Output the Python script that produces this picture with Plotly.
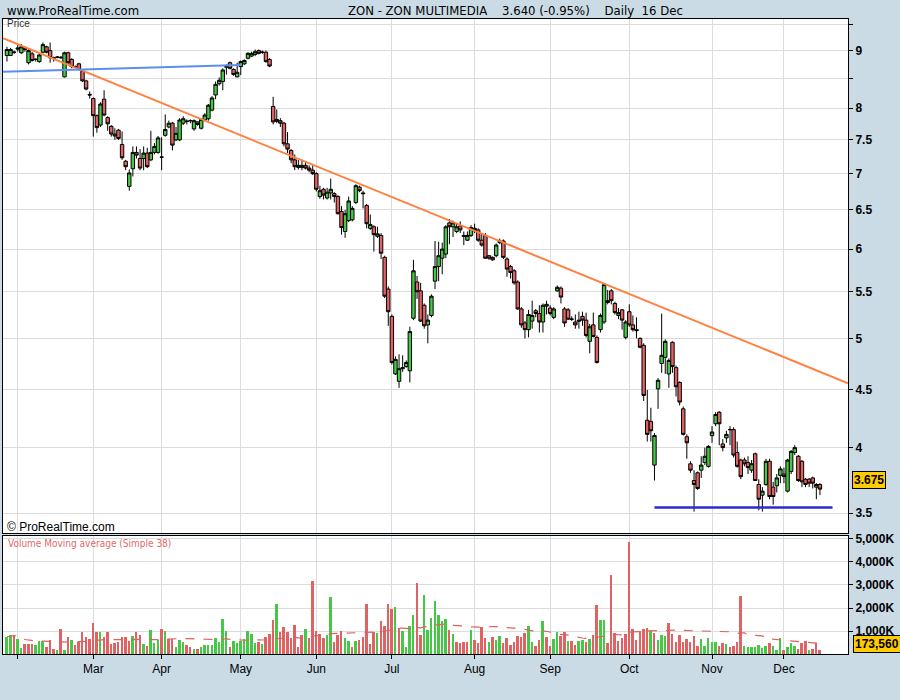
import numpy as np
import pandas as pd
import plotly.graph_objects as go

# ---------------- data ----------------
holidays = ["2008-03-21", "2008-03-24", "2008-05-01", "2008-12-08"]
dates = [d for d in pd.bdate_range("2008-01-29", "2008-12-16")
         if d.strftime("%Y-%m-%d") not in holidays]

opens = [8.91, 8.91, 8.97, 9.05, 8.96, 9.05, 8.78, 8.94, 8.84, 8.80, 8.97, 9.07, 9.00, 8.87, 8.88, 8.88, 8.53, 8.96, 8.84, 8.71,
         8.76, 8.63, 8.46, 8.23, 8.16, 7.88, 7.73, 8.15, 7.85, 7.71, 7.56, 7.65, 7.43, 7.18, 6.82, 7.07, 7.31, 7.22, 7.22, 7.30,
         7.20, 7.31, 7.31, 7.24, 7.57, 7.70, 7.76, 7.50, 7.50, 7.76, 7.79, 7.80, 7.67, 7.78, 7.68, 7.81, 7.83, 7.97, 8.22, 8.41,
         8.45, 8.70, 8.78, 8.66, 8.53, 8.71, 8.76, 8.86, 8.90, 8.93, 9.00, 8.97, 8.97, 8.84,
         8.03, 7.82, 7.80, 7.76, 7.44, 7.34, 7.20, 7.09, 7.12, 7.12, 7.08, 7.05, 7.00, 6.68, 6.78, 6.66, 6.73, 6.72, 6.68, 6.48,
         6.22, 6.36, 6.37, 6.60, 6.81, 6.73, 6.56, 6.26, 6.28, 6.16, 6.17, 5.90, 5.53, 5.23, 4.65, 4.58, 4.70, 4.72, 4.68,
         5.21, 5.61, 5.51, 5.35, 5.14, 5.24, 5.62, 5.79, 5.89, 5.94, 6.33, 6.28, 6.22, 6.29, 6.17, 6.11, 6.17, 6.26, 6.24, 6.11,
         6.17, 5.92, 5.90, 5.92, 6.08, 6.10, 5.88, 5.79, 5.74, 5.61, 5.31, 5.16, 5.09, 5.18, 5.29, 5.26, 5.17, 5.34, 5.32, 5.22,
         5.51, 5.54, 5.31, 5.30, 5.20, 5.17, 5.19, 5.23, 5.19, 4.97, 5.14, 5.01,
         5.09, 5.17, 5.38, 5.51, 5.37, 5.24, 5.30, 5.01, 5.28, 5.14, 5.09, 5.00, 4.93, 4.23, 4.22, 3.86, 4.51, 4.75, 4.81, 4.65,
         4.96, 4.71, 4.57, 4.33, 4.09, 3.87, 3.74, 3.80, 3.82, 3.88, 3.85, 4.10, 4.20, 4.30, 4.03, 4.08, 4.15, 4.15, 3.96, 3.90,
         3.90, 3.88, 3.82, 3.95, 3.71, 3.63, 3.71, 3.89, 3.69, 3.70, 3.78, 3.79, 3.66, 3.81, 3.96, 3.93, 3.89, 3.75, 3.75, 3.76,
         3.69, 3.71]
highs = [9.07, 9.05, 9.00, 9.11, 9.12, 9.08, 9.03, 8.98, 8.86, 8.95, 9.15, 9.09, 9.15, 8.89, 8.90, 8.90, 8.98, 8.98, 8.86, 8.73,
         8.78, 8.65, 8.48, 8.28, 8.18, 7.90, 8.10, 8.30, 7.87, 7.73, 7.68, 7.67, 7.63, 7.20, 7.06, 7.40, 7.40, 7.36, 7.40, 7.38,
         7.64, 7.45, 7.56, 7.54, 7.90, 7.80, 7.78, 7.70, 7.84, 7.87, 7.82, 7.82, 7.82, 7.79, 7.84, 7.92, 8.07, 8.20, 8.45, 8.52,
         8.68, 8.75, 8.80, 8.68, 8.78, 8.82, 8.84, 8.97, 8.98, 9.02, 9.02, 9.00, 9.00, 8.86,
         8.19, 7.98, 7.84, 7.78, 7.62, 7.36, 7.28, 7.20, 7.20, 7.17, 7.12, 7.12, 7.02, 6.83, 6.80, 6.80, 6.93, 6.74, 6.70, 6.55,
         6.50, 6.68, 6.55, 6.85, 6.83, 6.76, 6.58, 6.44, 6.30, 6.28, 6.20, 5.92, 5.56, 5.25, 4.82, 4.84, 4.83, 4.78, 5.12,
         5.87, 5.68, 5.60, 5.37, 5.25, 5.47, 6.10, 6.09, 6.08, 6.30, 6.38, 6.36, 6.32, 6.35, 6.22, 6.22, 6.30, 6.32, 6.26, 6.20,
         6.20, 5.93, 5.91, 6.07, 6.13, 6.12, 5.90, 5.81, 5.76, 5.63, 5.33, 5.18, 5.30, 5.40, 5.31, 5.35, 5.37, 5.40, 5.35, 5.33,
         5.57, 5.56, 5.33, 5.32, 5.23, 5.25, 5.28, 5.28, 5.27, 5.15, 5.27, 5.03,
         5.26, 5.60, 5.52, 5.53, 5.39, 5.32, 5.31, 5.19, 5.36, 5.24, 5.22, 5.01, 4.95, 4.50, 4.34, 4.12, 4.61, 5.26, 4.99, 4.80,
         4.97, 4.73, 4.58, 4.35, 4.11, 3.89, 3.82, 3.81, 3.93, 4.00, 4.02, 4.18, 4.30, 4.31, 4.07, 4.14, 4.18, 4.17, 4.05, 3.91,
         3.92, 3.93, 3.90, 3.96, 3.75, 3.69, 3.91, 3.91, 3.73, 3.79, 3.85, 3.84, 3.91, 3.98, 4.02, 3.94, 3.90, 3.76, 3.76, 3.77,
         3.72, 3.72]
lows = [8.80, 8.90, 8.94, 8.98, 8.94, 8.98, 8.75, 8.80, 8.80, 8.78, 8.95, 8.95, 8.78, 8.80, 8.86, 8.85, 8.52, 8.75, 8.68, 8.69,
        8.64, 8.44, 8.30, 8.16, 7.55, 7.61, 7.70, 7.87, 7.64, 7.55, 7.50, 7.50, 7.20, 7.05, 6.76, 6.96, 7.22, 7.05, 7.05, 7.08,
        7.18, 7.28, 7.29, 7.05, 7.55, 7.68, 7.34, 7.48, 7.48, 7.73, 7.74, 7.76, 7.64, 7.72, 7.66, 7.79, 7.80, 7.95, 8.15, 8.38,
        8.30, 8.57, 8.66, 8.55, 8.52, 8.56, 8.74, 8.84, 8.88, 8.90, 8.93, 8.94, 8.78, 8.70,
        7.74, 7.76, 7.70, 7.40, 7.30, 7.15, 7.05, 7.06, 7.05, 7.06, 7.02, 6.98, 6.75, 6.65, 6.64, 6.64, 6.64, 6.60, 6.44, 6.18,
        6.14, 6.34, 6.35, 6.58, 6.74, 6.52, 6.26, 6.24, 5.97, 6.14, 5.88, 5.43, 5.13, 4.74, 4.64, 4.52, 4.67, 4.71, 4.57,
        5.19, 5.42, 5.17, 5.10, 4.95, 5.22, 5.53, 5.62, 5.70, 5.89, 6.06, 6.15, 6.20, 6.20, 6.05, 6.10, 6.15, 6.20, 6.09, 6.03,
        5.88, 5.87, 5.86, 5.90, 6.06, 5.88, 5.67, 5.65, 5.58, 5.30, 5.11, 5.00, 5.01, 5.10, 5.22, 5.06, 5.06, 5.25, 5.24, 5.20,
        5.50, 5.37, 5.12, 5.19, 5.18, 5.10, 5.10, 5.13, 5.01, 4.85, 5.01, 4.75,
        5.06, 5.15, 5.36, 5.36, 5.25, 5.20, 5.09, 4.99, 5.12, 5.07, 5.00, 4.90, 4.40, 4.05, 4.05, 3.74, 4.33, 4.66, 4.65, 4.52,
        4.66, 4.44, 4.36, 4.10, 3.91, 3.80, 3.51, 3.67, 3.76, 3.86, 3.84, 4.04, 4.18, 4.02, 3.97, 4.04, 4.02, 3.92, 3.84, 3.75,
        3.85, 3.79, 3.80, 3.74, 3.52, 3.51, 3.70, 3.60, 3.56, 3.65, 3.72, 3.72, 3.65, 3.79, 3.94, 3.73, 3.69, 3.69, 3.69, 3.68,
        3.60, 3.63]
closes = [9.02, 9.02, 8.97, 9.03, 9.07, 9.02, 9.00, 8.82, 8.84, 8.92, 9.11, 8.97, 8.87, 8.86, 8.88, 8.87, 8.96, 8.78, 8.71, 8.70,
          8.66, 8.46, 8.32, 8.22, 7.88, 7.69, 8.07, 7.89, 7.75, 7.59, 7.59, 7.52, 7.23, 7.10, 7.01, 7.31, 7.27, 7.08, 7.30, 7.10,
          7.31, 7.40, 7.53, 7.24, 7.66, 7.76, 7.42, 7.60, 7.81, 7.83, 7.79, 7.80, 7.80, 7.74, 7.82, 7.89, 8.05, 8.17, 8.40, 8.47,
          8.65, 8.71, 8.68, 8.57, 8.61, 8.80, 8.82, 8.95, 8.95, 8.98, 8.95, 8.97, 8.80, 8.72,
          7.78, 7.79, 7.76, 7.44, 7.36, 7.20, 7.10, 7.12, 7.09, 7.08, 7.05, 7.00, 6.78, 6.76, 6.70, 6.74, 6.78, 6.68, 6.45, 6.27,
          6.45, 6.62, 6.52, 6.83, 6.76, 6.72, 6.32, 6.31, 6.18, 6.19, 5.95, 5.45, 5.28, 4.76, 4.79, 4.70, 4.71, 4.76, 5.07,
          5.74, 5.50, 5.18, 5.13, 5.19, 5.45, 5.79, 5.92, 6.00, 6.28, 6.28, 6.33, 6.28, 6.24, 6.16, 6.17, 6.27, 6.23, 6.11, 6.05,
          5.89, 5.89, 5.87, 6.05, 6.10, 5.90, 5.76, 5.72, 5.60, 5.31, 5.14, 5.09, 5.25, 5.24, 5.26, 5.17, 5.35, 5.36, 5.26, 5.31,
          5.55, 5.44, 5.16, 5.20, 5.20, 5.14, 5.18, 5.19, 5.03, 5.12, 5.02, 4.76,
          5.24, 5.58, 5.40, 5.40, 5.27, 5.27, 5.19, 5.17, 5.14, 5.09, 5.08, 4.91, 4.45, 4.11, 4.14, 4.10, 4.59, 4.83, 4.97, 4.78,
          4.72, 4.53, 4.39, 4.11, 4.04, 3.82, 3.71, 3.68, 3.86, 3.93, 4.01, 4.13, 4.28, 4.20, 4.00, 4.11, 4.15, 3.94, 3.85, 3.77,
          3.87, 3.84, 3.87, 3.74, 3.60, 3.66, 3.89, 3.62, 3.62, 3.76, 3.83, 3.77, 3.90, 3.97, 4.00, 3.74, 3.73, 3.71, 3.72, 3.72,
          3.71, 3.675]

# volume in thousands of shares
volume_k = [750, 830, 830, 670, 280, 430, 430, 430, 390, 570, 570, 300, 610, 220, 170, 1090, 170, 750, 610, 390,
            520, 960, 720, 670, 1350, 960, 960, 750, 960, 430, 480, 520, 740, 740, 570, 780, 960, 830, 430, 350,
            1040, 480, 610, 1090, 1000, 650, 650, 320, 610, 520, 390, 320, 220, 220, 300, 390, 380, 390, 700, 520,
            1520, 1000, 300, 550, 480, 570, 650, 1000, 870, 480, 520, 430, 740, 870,
            1480, 2170, 960, 1170, 960, 700, 1260, 300, 830, 1090, 700, 3170, 1000, 870, 700, 810, 2480, 520, 830, 1000,
            700, 570, 300, 570, 610, 740, 2170, 430, 960, 910, 1430, 1220, 2170, 1960, 2040, 1130, 1000, 300, 1220,
            1700, 3090, 830, 2570, 1040, 1570, 2300, 1700, 1430, 1520, 1040, 870, 520, 480, 520, 520, 1040, 610, 480, 1170,
            700, 520, 740, 610, 780, 480, 700, 390, 520, 780, 740, 910, 1220, 520, 350, 610, 1430, 740, 350, 650,
            960, 780, 960, 570, 570, 390, 570, 610, 520, 650, 830, 2130,
            1480, 1480, 490, 3430, 900, 570, 710, 870, 4870, 1090, 610, 1000, 1090, 1130, 1000, 910, 610, 830, 800, 1350,
            870, 520, 830, 520, 650, 520, 780, 350, 650, 350, 700, 520, 520, 350, 460, 430, 300, 350, 520, 2520,
            350, 300, 300, 300, 390, 260, 350, 480, 350, 170, 700, 170, 300, 480, 350, 220, 480, 570, 170, 230,
            460, 173.56]
volume_dir = ("GGRGGRRRGG" "GRRRGRGRGR" "RRRRRRGRRR" "RRRRRGRRGR" "GGGRGRRGGG" "RRGRGGGGGG" "GGRGGGGGGG" "RGRR"
              "RGRRRRRRRG" "RRRRRGGRRR" "GGRGRRRRRG" "RRRRGRGGG"
              "GRRGGGGGGG" "RGRRRRGRRR" "RGRGGRRRRR" "RRGGRRGRRG" "GRRGRRGGRG" "RR"
              "GGRRRRRRRR" "RRRRGRGGGR" "RRRRRRRRGG" "GGGRRGRRRR" "GGGGGGGRGG" "GRGGGRRRGR" "RR")

# drawn lines: (bar index, price) anchors
trend_anchor_i = [0, 226]
trend_anchor_p = [9.20, 4.67]
blue_anchor_i = [0, 65]
blue_anchor_p = [8.62, 8.74]
support_price = 3.54
support_start_i = 180

price_ticks = [3.5, 4, 4.5, 5, 5.5, 6, 6.5, 7, 7.5, 8, 8.5, 9, 9.5]
price_tick_text = ["3.5", "4", "4.5", "5", "5.5", "6", "6.5", "7", "7.5", "8", "", "9", ""]
vol_ticks = [1e6, 2e6, 3e6, 4e6, 5e6]
vol_tick_text = ["1,000K", "2,000K", "3,000K", "4,000K", "5,000K"]

# ---------------- derived ----------------
n = len(opens)
dates = dates[:n]
xi = list(range(n))
volumes = [v * 1000 for v in volume_k]
vol_ma = pd.Series(volumes).rolling(38, min_periods=1).mean().tolist()

GREEN = "#46c846"
RED = "#e06262"
vol_colors = [GREEN if c == "G" else RED for c in volume_dir[:n]]

month_idx, month_lbl = [], []
for i in range(1, n):
    if dates[i].month != dates[i - 1].month:
        month_idx.append(i)
        month_lbl.append("" if dates[i].month == 2 else dates[i].strftime("%b"))

X_LO, X_HI = -1.1, 233.8


def log_line(ai, ap, x0, x1):
    s = (np.log(ap[1]) - np.log(ap[0])) / (ai[1] - ai[0])
    return [x0, x1], [float(np.exp(np.log(ap[0]) + s * (x - ai[0]))) for x in (x0, x1)]


tx, ty = log_line(trend_anchor_i, trend_anchor_p, X_LO, X_HI)
bx, by = log_line(blue_anchor_i, blue_anchor_p, X_LO, blue_anchor_i[1])

# ---------------- figure ----------------
fig = go.Figure()

fig.add_trace(go.Candlestick(
    x=xi, open=opens, high=highs, low=lows, close=closes,
    increasing=dict(line=dict(color="black", width=1), fillcolor=GREEN),
    decreasing=dict(line=dict(color="black", width=1), fillcolor=RED),
    whiskerwidth=0, xaxis="x", yaxis="y", showlegend=False, hoverinfo="skip"))

fig.add_trace(go.Scatter(x=tx, y=ty, mode="lines", line=dict(color="#ff8040", width=2),
                         xaxis="x", yaxis="y", showlegend=False, hoverinfo="skip"))
fig.add_trace(go.Scatter(x=bx, y=by, mode="lines", line=dict(color="#5b8ef0", width=2),
                         xaxis="x", yaxis="y", showlegend=False, hoverinfo="skip"))
fig.add_trace(go.Scatter(x=[support_start_i, n - 1 + 3.5], y=[support_price, support_price], mode="lines",
                         line=dict(color="#2a2ad6", width=2.5),
                         xaxis="x", yaxis="y", showlegend=False, hoverinfo="skip"))

fig.add_trace(go.Bar(x=xi, y=volumes, marker=dict(color=vol_colors, line=dict(width=0)), width=0.55,
                     xaxis="x2", yaxis="y2", showlegend=False, hoverinfo="skip"))
fig.add_trace(go.Scatter(x=xi, y=vol_ma, mode="lines", line=dict(color="#e06060", width=1.2, dash="dash"),
                         xaxis="x2", yaxis="y2", showlegend=False, hoverinfo="skip"))

L, R, T, B = 3, 52, 19, 46
W, H = 900, 700
PW, PH = W - L - R, H - T - B


def px(xp):
    return (xp - L) / PW


def py(yp):
    return (H - B - yp) / PH


GRID = "#dcdcdc"
axis_common = dict(showline=True, linecolor="black", linewidth=1, mirror=True, gridcolor=GRID, gridwidth=1,
                   zeroline=False)

fig.update_layout(
    width=W, height=H,
    margin=dict(l=L, r=R, t=T, b=B, pad=0),
    paper_bgcolor="#cadbe6", plot_bgcolor="white",
    showlegend=False, bargap=0, hovermode=False, boxgap=0.05, boxgroupgap=0,
    xaxis=dict(domain=[0, 1], range=[X_LO, X_HI], tickvals=month_idx, ticktext=month_lbl,
               showticklabels=False, ticks="", showgrid=True, rangeslider=dict(visible=False),
               anchor="y", **axis_common),
    yaxis=dict(domain=[py(533), 1], type="log", range=[np.log10(3.36), np.log10(9.6)],
               tickvals=price_ticks, ticktext=price_tick_text, side="right", ticks="outside", ticklen=4,
               tickcolor="black", tickfont=dict(family="Liberation Sans", size=12, color="black", weight="bold"),
               showgrid=True, anchor="x", **axis_common),
    xaxis2=dict(domain=[0, 1], range=[X_LO, X_HI], tickvals=month_idx, ticktext=month_lbl,
                ticks="outside", ticklen=4, tickcolor="black", showgrid=True,
                tickfont=dict(family="Liberation Sans", size=12, color="black"),
                anchor="y2", matches="x", **axis_common),
    yaxis2=dict(domain=[0, py(536)], range=[0, 5.13e6], tickvals=vol_ticks, ticktext=vol_tick_text,
                side="right", ticks="outside", ticklen=4, tickcolor="black",
                tickfont=dict(family="Liberation Sans", size=12, color="black", weight="bold"),
                showgrid=True, anchor="x2", **axis_common),
)

NB = "\u00a0"
ann = [
    dict(text="www.ProRealTime.com", x=px(5), y=py(10), xanchor="left", yanchor="middle",
         font=dict(family="DejaVu Sans Condensed, Liberation Sans Narrow, Liberation Sans", size=13, color="black")),
    dict(text=f"ZON - ZON MULTIMEDIA{NB*4}3.640 (-0.95%){NB*4}Daily{NB*2}16 Dec", x=px(515), y=py(10),
         xanchor="center", yanchor="middle",
         font=dict(family="DejaVu Sans Condensed, Liberation Sans Narrow, Liberation Sans", size=13, color="black")),
    dict(text="Price", x=px(5), y=py(24), xanchor="left", yanchor="middle",
         font=dict(family="Liberation Sans", size=10, color="#333333")),
    dict(text="© ProRealTime.com", x=px(5), y=py(527), xanchor="left", yanchor="middle",
         font=dict(family="Liberation Sans", size=12, color="black")),
    dict(text="Volume Moving average (Simple 38)", x=px(6), y=py(543), xanchor="left", yanchor="middle",
         font=dict(family="DejaVu Sans Condensed, Liberation Sans", size=10, color="#e06a6a")),
]
for a in ann:
    a.update(xref="paper", yref="paper", showarrow=False)
fig.update_layout(annotations=ann)

fig.add_annotation(text=f"{closes[-1]:.3f}", xref="paper", yref="y", x=px(852), y=np.log10(closes[-1]),
                   yshift=9, xanchor="left", yanchor="middle", showarrow=False, bgcolor="#ffcc00",
                   bordercolor="black", borderwidth=1, borderpad=1,
                   font=dict(family="Liberation Sans", size=12, color="black", weight="bold"))
fig.add_annotation(text=f"{volumes[-1]:,.0f}", xref="paper", yref="y2", x=px(853), y=volumes[-1],
                   yshift=6, xanchor="left", yanchor="middle", showarrow=False, bgcolor="#ffcc00",
                   bordercolor="black", borderwidth=1, borderpad=1,
                   font=dict(family="Liberation Sans", size=12, color="black", weight="bold"))

fig.write_html("out.html", config={"displayModeBar": False},
               post_script="document.body.style.margin='0';")
